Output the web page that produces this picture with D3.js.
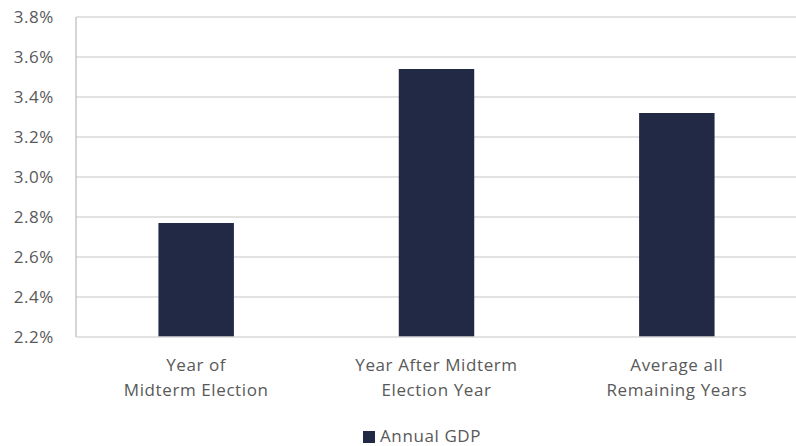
<!DOCTYPE html>
<html>
<head>
<meta charset="utf-8">
<script src="https://cdn.jsdelivr.net/npm/d3@7"></script>
<style>
  html, body { margin: 0; padding: 0; background: #ffffff; }
  svg { display: block; }
  text { font-family: "Open Sans", "Noto Sans", sans-serif; fill: #595959; letter-spacing: 0.6px; }
</style>
</head>
<body>
<svg id="chart" width="796" height="446"></svg>
<script>
// Annual GDP growth by position in the midterm election cycle
const categories = [
  ["Year of", "Midterm Election"],
  ["Year After Midterm", "Election Year"],
  ["Average all", "Remaining Years"]
];
const gdpValues = [2.77, 3.54, 3.32];
const yTicks = [2.2, 2.4, 2.6, 2.8, 3.0, 3.2, 3.4, 3.6, 3.8];
const seriesName = "Annual GDP";

const W = 796, H = 446;
const margin = { top: 17, right: -1, bottom: 109, left: 76 };
const innerW = W - margin.left - margin.right;
const innerH = H - margin.top - margin.bottom;
const barColor = "#222944";
const fontSize = "17px";

const svg = d3.select("#chart");
const g = svg.append("g").attr("transform", `translate(${margin.left},${margin.top})`);

const x = d3.scaleBand()
  .domain(d3.range(categories.length))
  .range([0, innerW])
  .paddingInner(0.686)
  .paddingOuter(0.343);

const y = d3.scaleLinear().domain([2.2, 3.8]).range([innerH, 0]);

// horizontal gridlines
g.append("g")
  .selectAll("line")
  .data(yTicks.slice(1))
  .join("line")
  .attr("x1", 0).attr("x2", innerW)
  .attr("y1", d => y(d)).attr("y2", d => y(d))
  .attr("stroke", "#d9d9d9")
  .attr("stroke-width", 1.3);

// y axis tick labels
const yAxis = d3.axisLeft(y)
  .tickValues(yTicks)
  .tickFormat(d => d.toFixed(1) + "%")
  .tickSize(0)
  .tickPadding(22);
const yg = g.append("g").call(yAxis);
yg.select(".domain").remove();
yg.selectAll("text")
  .style("font-size", fontSize)
  .attr("fill", "#595959");

// bars
g.append("g")
  .selectAll("rect")
  .data(gdpValues)
  .join("rect")
  .attr("x", (d, i) => x(i))
  .attr("width", x.bandwidth())
  .attr("y", d => y(d))
  .attr("height", d => y(2.2) - y(d))
  .attr("fill", barColor);

// axis lines
g.append("line")
  .attr("x1", 0).attr("x2", 0)
  .attr("y1", 0).attr("y2", innerH)
  .attr("stroke", "#bfbfbf").attr("stroke-width", 1.3);
g.append("line")
  .attr("x1", 0).attr("x2", innerW)
  .attr("y1", innerH).attr("y2", innerH)
  .attr("stroke", "#d9d9d9").attr("stroke-width", 1.3);

// category labels (two lines each)
const labels = g.append("g")
  .selectAll("text")
  .data(categories)
  .join("text")
  .attr("text-anchor", "middle")
  .attr("transform", (d, i) => `translate(${x(i) + x.bandwidth() / 2},${innerH + 34})`)
  .style("font-size", fontSize);
labels.selectAll("tspan")
  .data(d => d)
  .join("tspan")
  .attr("x", 0)
  .attr("dy", (d, i) => i === 0 ? 0 : 25)
  .text(d => d);

// legend
const legend = svg.append("g").attr("transform", "translate(363,431)");
legend.append("rect")
  .attr("width", 12).attr("height", 12)
  .attr("fill", barColor);
legend.append("text")
  .attr("x", 17).attr("y", 11)
  .style("font-size", fontSize)
  .text(seriesName);
</script>
</body>
</html>
